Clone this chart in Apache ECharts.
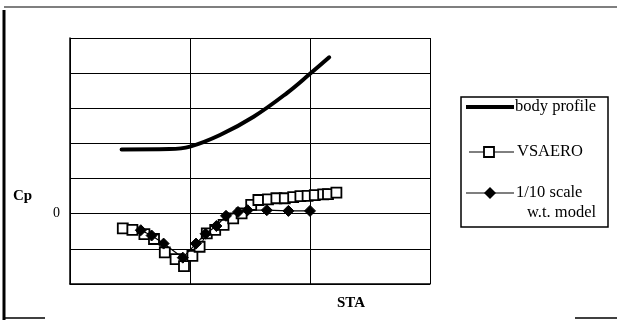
<!DOCTYPE html>
<html><head><meta charset="utf-8">
<script src="https://cdn.jsdelivr.net/npm/echarts@6/dist/echarts.min.js"></script>
<style>html,body{margin:0;padding:0;background:#fff}#c{width:617px;height:320px}</style>
</head><body><div id="c"></div>
<script>
var bodyProfile = [[0.43,1.83],[0.83,1.84],[1.0,1.91],[1.25,2.24],[1.53,2.76],[1.81,3.44],[2.0,3.98],[2.16,4.45]];
var vsaero = [[0.44,-0.42],[0.52,-0.46],[0.62,-0.58],[0.70,-0.72],[0.79,-1.10],[0.88,-1.29],[0.95,-1.49],[1.02,-1.20],[1.08,-0.94],[1.14,-0.56],[1.21,-0.46],[1.28,-0.32],[1.36,-0.13],[1.43,0.01],[1.51,0.25],[1.57,0.39],[1.65,0.41],[1.72,0.44],[1.79,0.44],[1.86,0.47],[1.92,0.50],[1.98,0.51],[2.04,0.53],[2.11,0.55],[2.15,0.56],[2.22,0.60]];
var wtModel = [[0.59,-0.47],[0.68,-0.62],[0.78,-0.85],[0.94,-1.25],[1.05,-0.85],[1.13,-0.57],[1.22,-0.35],[1.30,-0.06],[1.40,0.05],[1.48,0.10],[1.64,0.10],[1.82,0.08],[2.0,0.08]];
var seriesNames = ['body profile','VSAERO','1/10 scale w.t. model'];
var legendLines = [['body profile'],['VSAERO'],['1/10 scale','w.t. model']];
var yTickLabels = {'0':'0'};

var chart = echarts.init(document.getElementById('c'));
var font = '"Liberation Serif","DejaVu Serif",serif';
var lf = '16.5px ' + font;
chart.setOption({
  animation:false,
  backgroundColor:'#fff',
  grid:{left:70,right:187,top:38,bottom:36},
  xAxis:{type:'value',min:0,max:3,interval:1,
    axisLine:{show:true,onZero:false,lineStyle:{color:'#000',width:1.5}},
    axisTick:{show:false},axisLabel:{show:false},
    splitLine:{show:true,lineStyle:{color:'#000',width:1}}},
  yAxis:{type:'value',min:-2,max:5,interval:1,
    axisLine:{show:true,onZero:false,lineStyle:{color:'#000',width:1.5}},
    axisTick:{show:false},
    axisLabel:{show:true,color:'#000',fontFamily:font,fontSize:14,margin:10,
      formatter:function(v){return yTickLabels[String(v)]||'';}},
    splitLine:{show:true,lineStyle:{color:'#000',width:1.2}}},
  graphic:[
    {type:'line',shape:{x1:4,y1:10,x2:4,y2:320},style:{stroke:'#000',lineWidth:3}},
    {type:'line',shape:{x1:4,y1:7,x2:617,y2:7},style:{stroke:'#000',lineWidth:1.2}},
    {type:'line',shape:{x1:4,y1:318,x2:45,y2:318},style:{stroke:'#000',lineWidth:1.5}},
    {type:'line',shape:{x1:575,y1:318,x2:617,y2:318},style:{stroke:'#000',lineWidth:1.5}},
    {type:'text',left:13,top:189,style:{text:'Cp',font:'bold 15px '+font,fill:'#000'}},
    {type:'text',left:337,top:296,style:{text:'STA',font:'bold 15px '+font,fill:'#000'}},
    {type:'rect',shape:{x:461,y:97,width:147,height:130},style:{fill:'#fff',stroke:'#000',lineWidth:1.5},z:10},
    {type:'line',shape:{x1:466,y1:107,x2:514,y2:107},style:{stroke:'#000',lineWidth:4},z:11},
    {type:'text',x:515,y:107,style:{text:legendLines[0][0],font:lf,fill:'#000',verticalAlign:'middle'},z:11},
    {type:'line',shape:{x1:469,y1:152,x2:514,y2:152},style:{stroke:'#000',lineWidth:1},z:11},
    {type:'rect',shape:{x:484,y:147,width:10,height:10},style:{fill:'#fff',stroke:'#000',lineWidth:1.8},z:12},
    {type:'text',x:517,y:152,style:{text:legendLines[1][0],font:lf,fill:'#000',verticalAlign:'middle'},z:11},
    {type:'line',shape:{x1:466,y1:193,x2:514,y2:193},style:{stroke:'#000',lineWidth:1.2},z:11},
    {type:'polygon',shape:{points:[[490,187],[496,193],[490,199],[484,193]]},style:{fill:'#000'},z:12},
    {type:'text',x:516,y:193,style:{text:legendLines[2][0],font:lf,fill:'#000',verticalAlign:'middle'},z:11},
    {type:'text',x:527,y:213,style:{text:legendLines[2][1],font:lf,fill:'#000',verticalAlign:'middle'},z:11}
  ],
  series:[
    {name:seriesNames[0],type:'line',data:bodyProfile,showSymbol:false,symbol:'none',smooth:0.4,
      lineStyle:{color:'#000',width:4,cap:'round',join:'round'},itemStyle:{color:'#000'},z:3},
    {name:seriesNames[1],type:'line',data:vsaero,symbol:'rect',symbolSize:10,
      lineStyle:{color:'#000',width:1},itemStyle:{color:'#fff',borderColor:'#000',borderWidth:1.8},z:4},
    {name:seriesNames[2],type:'line',data:wtModel,symbol:'diamond',symbolSize:11,
      lineStyle:{color:'#000',width:1.2},itemStyle:{color:'#000',borderColor:'#000'},z:5}
  ]
});
</script></body></html>
